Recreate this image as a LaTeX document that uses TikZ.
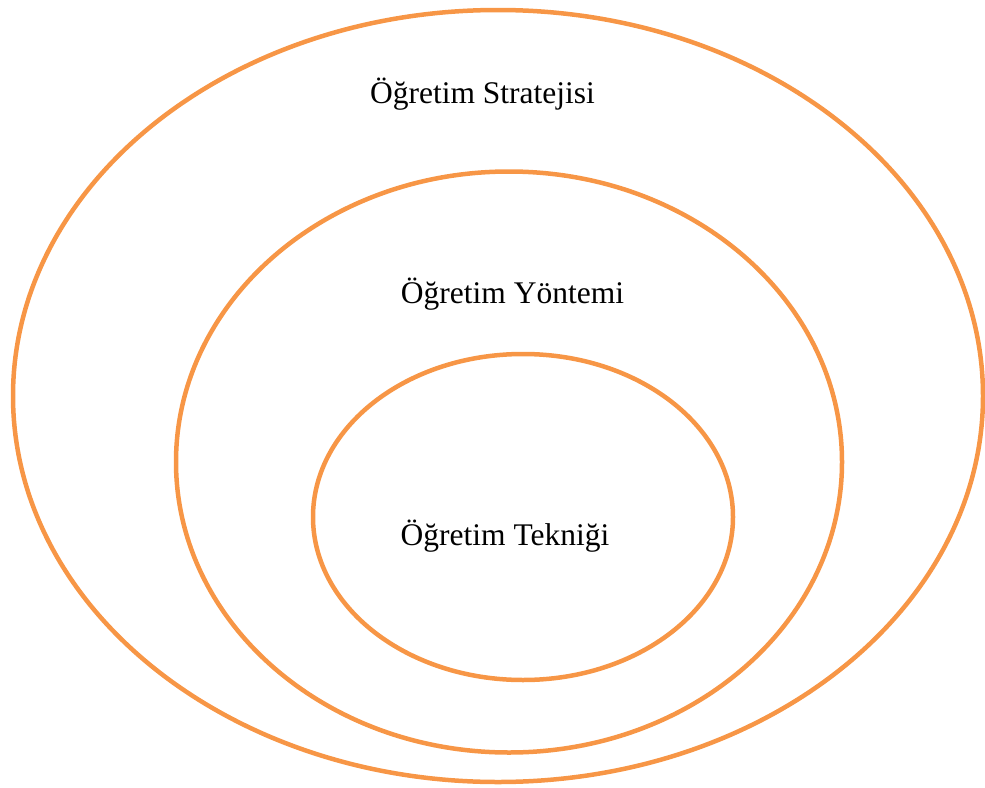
\documentclass[tikz,border=0pt]{standalone}
\usepackage{fontspec}
\setmainfont{Liberation Serif}
\usetikzlibrary{shapes.geometric}
\definecolor{ringorange}{HTML}{F79646}
\begin{document}
\begin{tikzpicture}[x=1pt, y=-1pt,
  ring/.style={ellipse, draw=ringorange, line width=4.5pt, inner sep=0pt},
  ringtext/.style={anchor=base, inner sep=0pt, font=\fontsize{31.5}{36}\selectfont}]
  \useasboundingbox (0,0) rectangle (985,787);
  \node[ring, minimum width=970pt, minimum height=772pt] (strateji) at (498,396) {};
  \node[ring, minimum width=666pt, minimum height=581pt] (yontem) at (509,462) {};
  \node[ring, minimum width=420pt, minimum height=326pt] (teknik) at (523,517) {};

  \node[ringtext] (stratejiText) at (482.5,103) {Öğretim Stratejisi};
  \node[ringtext] (yontemText) at (512.5,303) {Öğretim Yöntemi};
  \node[ringtext] (teknikText) at (505,545) {Öğretim Tekniği};
\end{tikzpicture}
\end{document}
